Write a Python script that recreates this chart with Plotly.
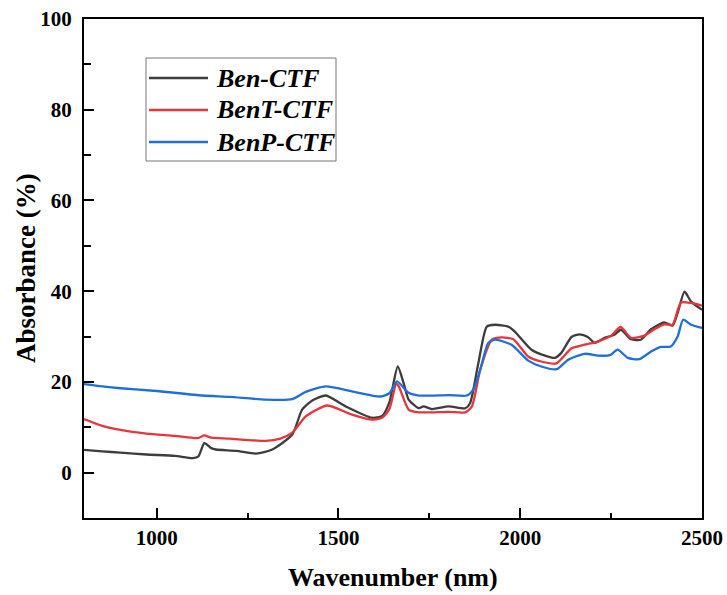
import plotly.graph_objects as go

# NIR absorbance spectra of the three CTF samples (wavelength in nm, absorbance in %)
ben_wl = [800, 850, 900, 972, 1050, 1099, 1115, 1131, 1150, 1163, 1220, 1273, 1318,
          1373, 1400, 1428, 1465, 1520, 1592, 1620, 1640, 1663, 1680, 1693, 1721,
          1734, 1757, 1803, 1849, 1862, 1885, 1908, 1931, 1967, 1985, 2031, 2068,
          2095, 2113, 2141, 2164, 2186, 2205, 2232, 2259, 2277, 2305, 2332, 2360,
          2396, 2419, 2433, 2452, 2470, 2500]
ben_abs = [5.0, 4.7, 4.4, 4.0, 3.7, 3.2, 3.6, 6.5, 5.4, 5.1, 4.8, 4.2, 5.1,
           8.4, 13.9, 15.9, 17.0, 14.6, 12.1, 12.5, 15.5, 23.4, 19.5, 16.1, 14.2,
           14.6, 14.0, 14.6, 14.2, 15.3, 24.2, 32.2, 32.6, 32.2, 31.1, 27.1, 25.8,
           25.3, 26.4, 29.9, 30.5, 29.9, 28.6, 29.7, 30.4, 31.5, 29.4, 29.3, 31.6,
           33.1, 32.4, 35.2, 39.9, 37.7, 35.9]

bent_wl = [800, 850, 900, 972, 1050, 1113, 1131, 1150, 1200, 1300, 1340, 1373, 1410,
           1469, 1537, 1592, 1620, 1640, 1659, 1666, 1693, 1721, 1803, 1849, 1867,
           1890, 1922, 1949, 1981, 2022, 2058, 2100, 2141, 2177, 2214, 2250, 2276,
           2305, 2342, 2369, 2396, 2419, 2442, 2470, 2500]
bent_abs = [11.8, 10.3, 9.4, 8.6, 8.1, 7.6, 8.2, 7.7, 7.5, 7.0, 7.5, 8.8, 12.4,
            14.8, 12.8, 11.7, 12.1, 14.0, 19.6, 19.0, 13.9, 13.3, 13.4, 13.3, 14.6,
            22.7, 29.3, 29.8, 29.4, 25.6, 24.5, 24.1, 27.4, 28.2, 28.9, 30.2, 32.1,
            29.7, 30.2, 31.6, 32.7, 32.6, 37.5, 37.4, 36.8]

benp_wl = [800, 850, 900, 1000, 1126, 1200, 1300, 1373, 1410, 1465, 1537, 1592, 1619,
           1640, 1661, 1693, 1721, 1803, 1853, 1871, 1890, 1912, 1931, 1976, 2022,
           2058, 2100, 2132, 2177, 2214, 2247, 2268, 2296, 2327, 2360, 2387, 2414,
           2433, 2448, 2470, 2500]
benp_abs = [19.5, 19.0, 18.6, 18.0, 17.0, 16.7, 16.1, 16.2, 17.8, 19.0, 17.9, 17.0, 16.8,
            17.5, 20.1, 17.6, 17.0, 17.1, 17.0, 18.3, 22.7, 28.6, 29.3, 28.2, 24.7,
            23.4, 22.8, 24.9, 26.2, 25.8, 25.9, 27.1, 25.3, 25.0, 26.7, 27.7, 27.8,
            30.0, 33.7, 32.6, 31.9]

series = [
    ("Ben-CTF", ben_wl, ben_abs, "#3d3d3d"),
    ("BenT-CTF", bent_wl, bent_abs, "#e8353b"),
    ("BenP-CTF", benp_wl, benp_abs, "#1e6fd9"),
]

x_ticks = [1000, 1500, 2000, 2500]
y_ticks = [0, 20, 40, 60, 80, 100]

SERIF = "Liberation Serif, Times New Roman, serif"

# figure geometry in pixels
W, H = 727, 595
ML, MR, MT, MB = 84, 25, 19, 77
PW, PH = W - ML - MR, H - MT - MB


def px(xp):
    return (xp - ML) / PW


def py(yp):
    return 1 - (yp - MT) / PH


fig = go.Figure()
for name, wl, ab, color in series:
    fig.add_trace(go.Scatter(
        x=wl, y=ab, name=name, mode="lines", showlegend=False,
        line=dict(color=color, width=2.3, shape="spline", smoothing=0.6),
    ))

# boxed legend in the upper-left corner of the plot area
shapes = [dict(type="rect", xref="paper", yref="paper",
               x0=px(146), x1=px(336), y0=py(161), y1=py(58),
               line=dict(color="#777777", width=1), fillcolor="white", layer="above")]
annotations = []
for i, (name, _, _, color) in enumerate(series):
    yrow = 78 + 32 * i
    shapes.append(dict(type="line", xref="paper", yref="paper",
                       x0=px(149), x1=px(208), y0=py(yrow), y1=py(yrow),
                       line=dict(color=color, width=2.5), layer="above"))
    annotations.append(dict(
        xref="paper", yref="paper", x=px(214), y=py(yrow),
        xanchor="left", yanchor="middle", showarrow=False, text=name,
        font=dict(family=SERIF, size=26, color="black", weight="bold", style="italic"),
    ))

# axis titles
annotations.append(dict(
    xref="paper", yref="paper", x=px(26), y=py(268), textangle=-90,
    xanchor="center", yanchor="middle", showarrow=False, text="Absorbance (%)",
    font=dict(family=SERIF, size=27, color="black", weight="bold"),
))
annotations.append(dict(
    xref="paper", yref="paper", x=px(393), y=py(577),
    xanchor="center", yanchor="middle", showarrow=False, text="Wavenumber (nm)",
    font=dict(family=SERIF, size=26, color="black", weight="bold"),
))

axis_common = dict(
    showgrid=False, zeroline=False, showline=True, linecolor="black",
    linewidth=2, mirror=True, ticks="inside", tickcolor="black",
    tickwidth=2, ticklen=10, automargin=False,
    tickfont=dict(family=SERIF, size=21, color="black", weight="bold"),
)

fig.update_layout(
    width=W, height=H,
    margin=dict(l=ML, r=MR, t=MT, b=MB),
    paper_bgcolor="white", plot_bgcolor="white",
    xaxis=dict(
        range=[800, 2500], tickvals=x_ticks,
        minor=dict(ticks="inside", dtick=250, tick0=750, ticklen=5,
                   tickwidth=2, tickcolor="black"),
        ticklabelstandoff=0,
        **axis_common,
    ),
    yaxis=dict(
        range=[-10, 100], tickvals=y_ticks,
        minor=dict(ticks="inside", dtick=10, tick0=10, ticklen=7,
                   tickwidth=2, tickcolor="black"),
        ticklabelstandoff=6,
        **axis_common,
    ),
    shapes=shapes,
    annotations=annotations,
    showlegend=False,
)

fig.write_html("out.html")
